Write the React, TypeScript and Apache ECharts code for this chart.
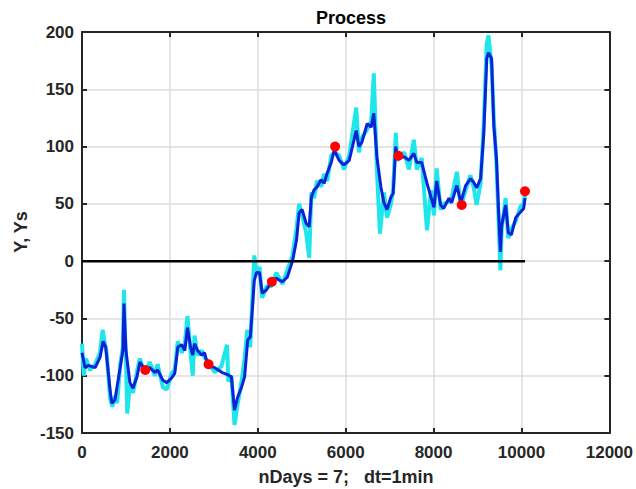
import React, { useEffect, useRef } from "react";
import * as echarts from "echarts";

// Raw process Y (cyan) : [minute, value]
const processY: [number, number][] = [
  [0, -72], [40, -100], [90, -85], [180, -95], [300, -90], [408, -80], [470, -60], [520, -72],
  [560, -80], [640, -120], [690, -127], [750, -118], [800, -124], [870, -90], [930, -75],
  [955, -25], [975, -60], [1000, -85], [1030, -133], [1090, -108], [1160, -115], [1250, -97],
  [1315, -85], [1430, -98], [1540, -88], [1660, -100], [1720, -90], [1840, -110], [1930, -112],
  [2040, -98], [2110, -95], [2180, -70], [2270, -80], [2340, -72], [2400, -48], [2470, -80],
  [2520, -100], [2560, -65], [2630, -82], [2720, -78], [2790, -84], [2860, -88], [3020, -97],
  [3170, -92], [3300, -73], [3330, -105], [3400, -100], [3470, -143], [3540, -125], [3630, -105],
  [3700, -85], [3760, -60], [3830, -75], [3880, -30], [3920, 5], [3970, -12], [4040, -5],
  [4100, -32], [4200, -22], [4310, -22], [4420, -10], [4560, -20], [4670, -8], [4790, 5],
  [4880, 28], [4940, 50], [5010, 40], [5100, 25], [5170, 3], [5220, 60], [5280, 55], [5350, 70],
  [5440, 65], [5510, 76], [5580, 70], [5670, 92], [5740, 95], [5850, 92], [5960, 80], [6080, 92],
  [6240, 134], [6300, 95], [6370, 108], [6490, 115], [6580, 122], [6640, 164], [6710, 80],
  [6780, 24], [6870, 60], [6940, 38], [7030, 50], [7080, 62], [7140, 112], [7170, 88], [7330, 95],
  [7440, 80], [7550, 106], [7620, 80], [7730, 90], [7850, 27], [7940, 62], [8010, 40], [8070, 81],
  [8160, 45], [8230, 50], [8350, 52], [8410, 55], [8530, 78], [8620, 48], [8730, 62], [8840, 75],
  [8910, 65], [8980, 49], [9070, 68], [9140, 118], [9210, 190], [9250, 197], [9320, 170],
  [9370, 125], [9430, 85], [9480, 35], [9520, -8], [9550, 28], [9640, 55], [9700, 20], [9770, 28],
  [9870, 35], [9980, 48], [10050, 50], [10080, 58],
];

// Smoothed Ys (blue) : [minute, value]
const smoothYs: [number, number][] = [
  [0, -80], [70, -93], [140, -91], [300, -93], [410, -84], [480, -70], [540, -75], [640, -113],
  [680, -124], [750, -121], [860, -95], [930, -78], [955, -37], [1000, -78], [1090, -106],
  [1160, -111], [1250, -101], [1320, -88], [1430, -95], [1540, -93], [1660, -97], [1720, -95],
  [1840, -104], [1930, -106], [2040, -102], [2110, -98], [2180, -75], [2270, -73], [2340, -78],
  [2400, -58], [2470, -75], [2520, -82], [2560, -72], [2630, -78], [2720, -82], [2790, -80],
  [2860, -91], [3020, -93], [3180, -97], [3310, -99], [3400, -101], [3470, -130], [3540, -119],
  [3630, -110], [3700, -101], [3770, -69], [3830, -66], [3880, -40], [3920, -17], [3970, -10],
  [4040, -10], [4100, -28], [4200, -25], [4310, -18], [4420, -15], [4560, -18], [4670, -14],
  [4790, 0], [4880, 18], [4940, 42], [5010, 45], [5100, 33], [5170, 30], [5220, 56], [5280, 62],
  [5350, 65], [5440, 71], [5510, 68], [5580, 77], [5670, 86], [5740, 97], [5850, 88], [5960, 84],
  [6080, 88], [6240, 114], [6300, 100], [6370, 104], [6490, 120], [6580, 117], [6640, 129],
  [6710, 91], [6800, 65], [6870, 51], [6940, 45], [7030, 56], [7080, 59], [7140, 100], [7170, 91],
  [7330, 91], [7440, 88], [7550, 94], [7620, 86], [7730, 86], [7850, 68], [7940, 56], [8010, 47],
  [8070, 70], [8160, 49], [8230, 46], [8350, 55], [8410, 51], [8530, 66], [8620, 51], [8730, 66],
  [8840, 72], [8910, 69], [8980, 64], [9070, 72], [9140, 110], [9210, 177], [9250, 182],
  [9320, 177], [9370, 119], [9430, 90], [9480, 43], [9520, 8], [9550, 31], [9640, 49], [9700, 25],
  [9770, 23], [9870, 38], [9980, 43], [10050, 46], [10080, 55],
];

// Daily samples (red dots)
const dailyDots: [number, number][] = [
  [1440, -95], [2880, -90], [4320, -18], [5760, 100], [7200, 92], [8640, 49], [10080, 61],
];

// Zero reference line
const zeroLine: [number, number][] = [[0, 0], [10080, 0]];

const xMin = 0, xMax = 12000, xStep = 2000;
const yMin = -150, yMax = 200, yStep = 50;

const titleText = "Process";
const xName = "nDays = 7;   dt=1min";
const yName = "Y, Ys";

export default function App() {
  const ref = useRef<HTMLDivElement>(null);
  useEffect(() => {
    if (!ref.current) return;
    const chart = echarts.init(ref.current, undefined, { renderer: "svg" });
    const font = "'Liberation Sans', Arial, sans-serif";
    const lbl = { fontFamily: font, fontWeight: "bold" as const, fontSize: 17, color: "#262626" };
    const axisLineStyle = { onZero: false, lineStyle: { color: "#262626", width: 2 } };
    const tick = { show: true, inside: true, length: 5, lineStyle: { color: "#262626", width: 2 } };
    const plain = (v: number) => String(v);
    chart.setOption({
      animation: false,
      backgroundColor: "#ffffff",
      title: {
        text: titleText,
        left: 346,
        top: 4,
        textAlign: "center",
        textStyle: { fontFamily: font, fontWeight: "bold", fontSize: 18, color: "#000" },
      },
      grid: { left: 82, right: 25, top: 32, bottom: 56, containLabel: false },
      xAxis: [
        {
          type: "value", min: xMin, max: xMax, interval: xStep, position: "bottom",
          axisLine: { show: true, ...axisLineStyle }, axisTick: tick,
          axisLabel: { ...lbl, margin: 11, formatter: plain },
          splitLine: { show: true, lineStyle: { color: "#dcdcdc", width: 1.5 } },
        },
        {
          type: "value", min: xMin, max: xMax, interval: xStep, position: "top",
          axisLine: { show: true, ...axisLineStyle }, axisTick: tick,
          axisLabel: { show: false }, splitLine: { show: false },
        },
      ],
      yAxis: [
        {
          type: "value", min: yMin, max: yMax, interval: yStep, position: "left",
          axisLine: { show: true, ...axisLineStyle }, axisTick: tick,
          axisLabel: { ...lbl, margin: 8, formatter: plain },
          splitLine: { show: true, lineStyle: { color: "#dcdcdc", width: 1.5 } },
        },
        {
          type: "value", min: yMin, max: yMax, interval: yStep, position: "right",
          axisLine: { show: true, ...axisLineStyle }, axisTick: tick,
          axisLabel: { show: false }, splitLine: { show: false },
        },
      ],
      graphic: [
        {
          type: "text", x: 346, y: 477,
          style: { text: xName, x: 0, y: 0, textAlign: "center", textVerticalAlign: "middle",
            font: `bold 18px ${font}`, fill: "#262626" },
        },
        {
          type: "text", x: 21, y: 232, rotation: Math.PI / 2,
          style: { text: yName, x: 0, y: 0, textAlign: "center", textVerticalAlign: "middle",
            font: `bold 18px ${font}`, fill: "#262626" },
        },
      ],
      series: [
        {
          type: "line", data: processY, showSymbol: false, symbol: "none",
          lineStyle: { color: "#1ee6ea", width: 4 }, z: 2,
        },
        {
          type: "line", data: smoothYs, showSymbol: false, symbol: "none",
          lineStyle: { color: "#0b22d8", width: 3 }, z: 3,
        },
        {
          type: "line", data: zeroLine, showSymbol: false, symbol: "none",
          lineStyle: { color: "#000000", width: 2.5 }, z: 4,
        },
        {
          type: "scatter", data: dailyDots, symbol: "circle", symbolSize: 10,
          itemStyle: { color: "#ff0000", opacity: 1 }, z: 5,
        },
      ],
    });
    return () => chart.dispose();
  }, []);
  return <div ref={ref} style={{ width: 636, height: 489, position: "absolute", left: 0, top: 0 }} />;
}
